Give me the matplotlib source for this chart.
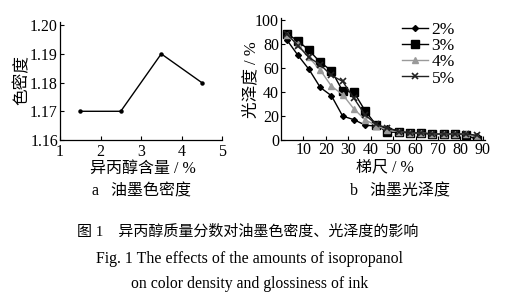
import numpy as np
import matplotlib.pyplot as plt

plt.rcParams['font.family'] = ['Liberation Serif', 'Noto Sans CJK SC']
plt.rcParams['axes.unicode_minus'] = False

# left panel: colour density vs isopropanol content
ipa = [1.5, 2.5, 3.5, 4.5]
density = [1.17, 1.17, 1.19, 1.18]

# right panel: glossiness vs step wedge
steps = np.arange(2.5, 90, 5)
gloss = {
    '2%': [84, 71, 59, 44, 37, 20, 17, 12.5, 11.5, 10, 7.5, 6, 6, 5, 5, 5, 5, 3],
    '3%': [89, 83, 75, 65, 58, 41, 40, 24.5, 12.5, 6.5, 6.5, 6, 5.5, 5, 5, 5, 4.5, 0],
    '4%': [88, 80, 69, 58.5, 45, 38, 26, 17, 12, 8, 7, 6, 6, 5, 5, 5, 5, 2.5],
    '5%': [89, 79, 69, 63, 54, 49, 35, 21, 13, 10, 7, 6, 6, 5, 5, 5, 5, 4],
}
styles = {
    '2%': dict(color='black', marker='D', ms=3),
    '3%': dict(color='black', marker='s', ms=5.5),
    '4%': dict(color='#9a9a9a', marker='^', ms=4.5),
    '5%': dict(color='#222222', marker='x', ms=4, mew=1.2),
}

W, H = 508, 301
fig = plt.figure(figsize=(W / 100, H / 100), dpi=100)

def box(l, r, t, b):
    return [l / W, 1 - b / H, (r - l) / W, (b - t) / H]

def tidy(ax):
    for s in ['top', 'right']:
        ax.spines[s].set_visible(False)
    for s in ['left', 'bottom']:
        ax.spines[s].set_linewidth(0.9)
    ax.tick_params(direction='in', length=3, width=0.8, labelsize=11.5, pad=1.5)

ax1 = fig.add_axes(box(60, 222, 22, 140))
tidy(ax1)
ax1.tick_params(axis='x', pad=2.8)
ax1.plot(ipa, density, color='black', lw=1, marker='o', ms=2.2)
ax1.set_xlim(1, 5)
ax1.set_ylim(1.16, 1.2011)
ax1.set_xticks([1, 2, 3, 4, 5])
ax1.set_yticks([1.16, 1.17, 1.18, 1.19, 1.20])
ax1.set_yticklabels(['1.16', '1.17', '1.18', '1.19', '1.20'])

ax2 = fig.add_axes(box(281, 485, 18, 140))
tidy(ax2)
for k, v in gloss.items():
    ax2.plot(steps, v, lw=1, label=k, **styles[k])
ax2.set_xlim(0, 91)
ax2.set_ylim(0, 102)
ax2.set_xticks(range(10, 100, 10))
ax2.set_yticks(range(0, 101, 20))
ax2.legend(loc='upper right', bbox_to_anchor=(462 / W, 1 - 15 / H),
           bbox_transform=fig.transFigure, frameon=False, fontsize=12.5,
           handlelength=1.5, handletextpad=0.2, labelspacing=0.0,
           borderaxespad=0)

# axis titles and panel captions
fig.text(22 / W, 1 - 80 / H, '色密度', rotation=90, ha='center', va='center', fontsize=12)
fig.text(143 / W, 1 - 168.5 / H, '异丙醇含量 / %', ha='center', va='center', fontsize=11.5)
fig.text(142 / W, 1 - 191 / H, 'a   油墨色密度', ha='center', va='center', fontsize=11.5)
fig.text(251 / W, 1 - 80 / H, '光泽度 / %', rotation=90, ha='center', va='center', fontsize=12)
fig.text(385 / W, 1 - 167 / H, '梯尺 / %', ha='center', va='center', fontsize=11.5)
fig.text(400 / W, 1 - 191 / H, 'b   油墨光泽度', ha='center', va='center', fontsize=11.5)

fig.text(248 / W, 1 - 232 / H, '图 1    异丙醇质量分数对油墨色密度、光泽度的影响',
         ha='center', va='center', fontsize=10.8)
fig.text(250 / W, 1 - 259 / H, 'Fig. 1 The effects of the amounts of isopropanol',
         ha='center', va='center', fontsize=11.4)
fig.text(250 / W, 1 - 284 / H, 'on color density and glossiness of ink',
         ha='center', va='center', fontsize=11.3)

fig.savefig('out.png', dpi=100)
